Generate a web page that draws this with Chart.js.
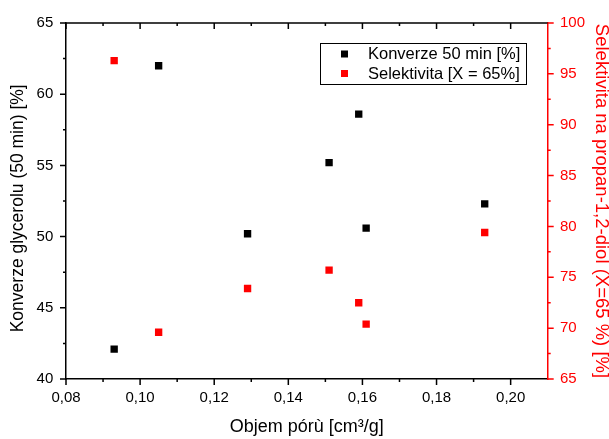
<!DOCTYPE html>
<html>
<head>
<meta charset="utf-8">
<script src="https://cdn.jsdelivr.net/npm/chart.js@4/dist/chart.umd.min.js"></script>
<style>
  html, body { margin: 0; padding: 0; background: #fff; }
  #wrap { width: 609px; height: 439px; }
</style>
</head>
<body>
<div id="wrap"><canvas id="c" width="609" height="439"></canvas></div>
<script>
// Pore volume of the catalysts [cm3/g]
const poreVolume = [0.093, 0.105, 0.129, 0.151, 0.159, 0.161, 0.193];
// Glycerol conversion after 50 min [%]
const conversion50 = [42.1, 62.0, 50.2, 55.2, 58.6, 50.6, 52.3];
// Selectivity to propane-1,2-diol at X = 65 % [%]
const selectivity = [96.3, 69.6, 73.9, 75.7, 72.5, 70.4, 79.4];

const xTicks = [0.08, 0.10, 0.12, 0.14, 0.16, 0.18, 0.20];
const leftTicks = [40, 45, 50, 55, 60, 65];
const rightTicks = [65, 70, 75, 80, 85, 90, 95, 100];

const seriesNames = ['Konverze 50 min [%]', 'Selektivita [X = 65%]'];
const RED = '#ff0000';
const FONT = '"Liberation Sans", Arial, sans-serif';

Chart.defaults.font.family = FONT;
Chart.defaults.color = '#000';

const mids = arr => arr.slice(1).map((v, i) => (v + arr[i]) / 2);

// Major/minor tick marks on all four sides of the frame
const tickMarks = {
  id: 'tickMarks',
  afterDraw(chart) {
    const { ctx, chartArea: a, scales: { x, y, y1 } } = chart;
    ctx.save();
    ctx.lineWidth = 1.5;
    ctx.strokeStyle = '#000';
    ctx.beginPath();
    // top frame line
    ctx.moveTo(a.left, a.top);
    ctx.lineTo(a.right, a.top);
    const xMarks = (vals, len) => vals.forEach(v => {
      const px = x.getPixelForValue(v);
      ctx.moveTo(px, a.bottom); ctx.lineTo(px, a.bottom + len);
      ctx.moveTo(px, a.top); ctx.lineTo(px, a.top + len);
    });
    xMarks(xTicks, 6);
    xMarks(mids(xTicks), 3);
    const lMarks = (vals, len) => vals.forEach(v => {
      const py = y.getPixelForValue(v);
      ctx.moveTo(a.left, py); ctx.lineTo(a.left - len, py);
    });
    lMarks(leftTicks, 6);
    lMarks(mids(leftTicks), 3);
    ctx.stroke();

    ctx.strokeStyle = RED;
    ctx.beginPath();
    const rMarks = (vals, len) => vals.forEach(v => {
      const py = y1.getPixelForValue(v);
      ctx.moveTo(a.right, py); ctx.lineTo(a.right + len, py);
    });
    rMarks(rightTicks, 6);
    rMarks(mids(rightTicks), 3);
    ctx.stroke();
    ctx.restore();
  }
};

// Framed legend inside the plot area
const boxLegend = {
  id: 'boxLegend',
  afterDraw(chart) {
    const { ctx } = chart;
    const bx = 320, by = 43, bw = 206, bh = 41;
    ctx.save();
    ctx.fillStyle = '#fff';
    ctx.fillRect(bx, by, bw, bh);
    ctx.strokeStyle = '#000';
    ctx.lineWidth = 1;
    ctx.strokeRect(bx + 0.5, by + 0.5, bw, bh);
    ctx.font = '16.5px ' + FONT;
    ctx.textBaseline = 'middle';
    chart.data.datasets.forEach((ds, i) => {
      const cy = by + 11 + i * 19.5;
      ctx.fillStyle = ds.backgroundColor;
      ctx.fillRect(bx + 21, cy - 3.5, 7, 7);
      ctx.fillStyle = '#000';
      ctx.fillText(ds.label, bx + 48, cy + 0.5);
    });
    ctx.restore();
  }
};

const noGrid = { display: false, drawTicks: false, tickLength: 0 };

new Chart(document.getElementById('c'), {
  type: 'scatter',
  data: {
    datasets: [
      {
        label: seriesNames[0],
        data: poreVolume.map((v, i) => ({ x: v, y: conversion50[i] })),
        yAxisID: 'y',
        backgroundColor: '#000',
        borderColor: '#000',
        pointStyle: 'rect',
        pointRadius: 5.2,
        pointBorderWidth: 0
      },
      {
        label: seriesNames[1],
        data: poreVolume.map((v, i) => ({ x: v, y: selectivity[i] })),
        yAxisID: 'y1',
        backgroundColor: RED,
        borderColor: RED,
        pointStyle: 'rect',
        pointRadius: 5.2,
        pointBorderWidth: 0
      }
    ]
  },
  options: {
    responsive: false,
    maintainAspectRatio: false,
    animation: false,
    layout: { padding: { top: 23, left: 0, right: 0, bottom: 0 } },
    plugins: { legend: { display: false }, tooltip: { enabled: false } },
    scales: {
      x: {
        type: 'linear',
        position: 'bottom',
        min: 0.08,
        max: 0.21,
        afterBuildTicks: s => { s.ticks = xTicks.map(v => ({ value: v })); },
        afterFit: s => { s.height = 60; },
        grid: noGrid,
        border: { display: true, color: '#000', width: 1.5 },
        ticks: {
          padding: 9.5,
          font: { size: 15 },
          color: '#000',
          maxRotation: 0,
          callback: v => Number(v).toFixed(2).replace('.', ',')
        },
        title: {
          display: true,
          text: 'Objem pórù [cm³/g]',
          font: { size: 18 },
          color: '#000',
          padding: { top: 0, bottom: 1 }
        }
      },
      y: {
        type: 'linear',
        position: 'left',
        min: 40,
        max: 65,
        afterBuildTicks: s => { s.ticks = leftTicks.map(v => ({ value: v })); },
        afterFit: s => { s.width = 66; },
        grid: noGrid,
        border: { display: true, color: '#000', width: 1.5 },
        ticks: { padding: 12.7, font: { size: 15 }, color: '#000' },
        title: {
          display: true,
          text: 'Konverze glycerolu (50 min) [%]   ',
          font: { size: 17.5 },
          color: '#000',
          padding: { top: 8, bottom: 0 }
        }
      },
      y1: {
        type: 'linear',
        position: 'right',
        min: 65,
        max: 100,
        afterBuildTicks: s => { s.ticks = rightTicks.map(v => ({ value: v })); },
        afterFit: s => { s.width = 61.3; },
        grid: noGrid,
        border: { display: true, color: RED, width: 1.5 },
        ticks: { padding: 12.3, font: { size: 15 }, color: RED },
        title: {
          display: true,
          text: 'Selektivita na propan-1,2-diol (X=65 %) [%]',
          font: { size: 18.5 },
          color: RED,
          padding: { top: -3.5, bottom: 0 }
        }
      }
    }
  },
  plugins: [tickMarks, boxLegend]
});
</script>
</body>
</html>
